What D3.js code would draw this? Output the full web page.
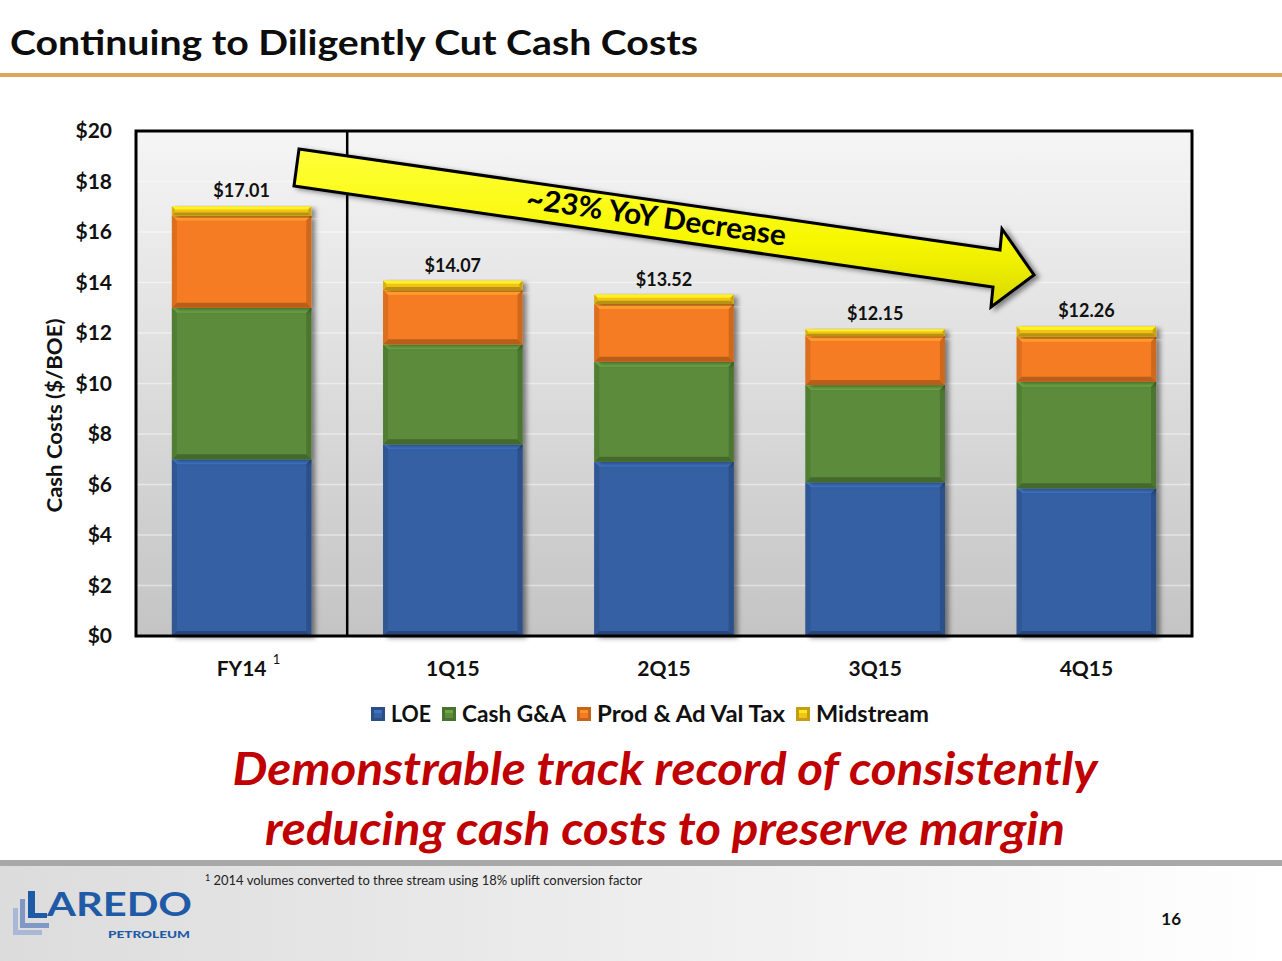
<!DOCTYPE html>
<html>
<head>
<meta charset="utf-8">
<script src="https://cdn.jsdelivr.net/npm/d3@7"></script>
<style>
  html, body { margin: 0; padding: 0; background: #fff; }
  svg { display: block; font-family: Lato, "Open Sans", sans-serif; }
</style>
</head>
<body>
<svg id="chart"></svg>
<script>
// data
const categories = ["FY14", "1Q15", "2Q15", "3Q15", "4Q15"];
const seriesNames = ["LOE", "Cash G&A", "Prod & Ad Val Tax", "Midstream"];
const loe = [7.00, 7.59, 6.90, 6.09, 5.85];
const cashGA = [6.00, 3.96, 3.96, 3.85, 4.22];
const prodTax = [3.65, 2.15, 2.29, 1.94, 1.78];
const midstream = [0.36, 0.37, 0.37, 0.27, 0.41];
const totals = ["$17.01", "$14.07", "$13.52", "$12.15", "$12.26"];
const yTicks = [0, 2, 4, 6, 8, 10, 12, 14, 16, 18, 20];
const seriesColors = ["#3560a4", "#5b8c3a", "#f57c22", "#f2c318"];

const W = 1282, H = 961;
const svg = d3.select("#chart").attr("width", W).attr("height", H);
const defs = svg.append("defs");

// 1. SLIDE FRAME
svg.append("text")
  .attr("x", 10).attr("y", 55)
  .attr("textLength", 688).attr("lengthAdjust", "spacingAndGlyphs")
  .style("font-size", "35px").style("font-weight", "bold").style("fill", "#0d0d0d")
  .text("Continuing to Diligently Cut Cash Costs");

svg.append("rect").attr("x", 0).attr("y", 73).attr("width", W).attr("height", 4).attr("fill", "#dea65d");

// footer band
const footGrad = defs.append("linearGradient").attr("id", "footGrad");
footGrad.append("stop").attr("offset", "0%").attr("stop-color", "#dcdcdc");
footGrad.append("stop").attr("offset", "100%").attr("stop-color", "#ffffff");
svg.append("rect").attr("x", 0).attr("y", 866).attr("width", W).attr("height", H - 866).attr("fill", "url(#footGrad)");
svg.append("rect").attr("x", 0).attr("y", 860).attr("width", W).attr("height", 6).attr("fill", "#a8a8a8");

// 2. CHART AREA
const plotL = 136, plotR = 1192, plotT = 131, plotB = 636;

const x = d3.scaleBand().domain(categories).range([plotL, plotR]).paddingInner(0.34).paddingOuter(0.17);
const y = d3.scaleLinear().domain([0, 20]).range([plotB, plotT]);

const bgGrad = defs.append("linearGradient").attr("id", "bgGrad").attr("x1", 0).attr("y1", 0).attr("x2", 0).attr("y2", 1);
bgGrad.append("stop").attr("offset", "0%").attr("stop-color", "#f5f5f5");
bgGrad.append("stop").attr("offset", "100%").attr("stop-color", "#c4c4c4");
svg.append("rect").attr("x", plotL).attr("y", plotT).attr("width", plotR - plotL).attr("height", plotB - plotT).attr("fill", "url(#bgGrad)");

// gridlines
svg.append("g").selectAll("line")
  .data(yTicks.slice(1, -1))
  .enter().append("line")
  .attr("x1", plotL).attr("x2", plotR)
  .attr("y1", d => y(d)).attr("y2", d => y(d))
  .attr("stroke", "#ffffff").attr("stroke-opacity", 0.45).attr("stroke-width", 1.5);

// y axis labels
const yAxis = d3.axisLeft(y).tickValues(yTicks).tickFormat(d => "$" + d).tickSize(0).tickPadding(24);
const yg = svg.append("g").attr("transform", `translate(${plotL},0)`).call(yAxis);
yg.select(".domain").remove();
yg.selectAll("text").style("font-size", "21px").style("font-weight", "bold").style("fill", "#111").style("font-family", "Lato, sans-serif");

svg.append("text")
  .attr("transform", `translate(62,${(plotT + plotB) / 2 + 32}) rotate(-90)`)
  .attr("text-anchor", "middle")
  .attr("textLength", 194).attr("lengthAdjust", "spacingAndGlyphs")
  .style("font-size", "21px").style("font-weight", "bold").style("fill", "#111")
  .text("Cash Costs ($/BOE)");

// x axis labels
const xAxis = d3.axisBottom(x).tickSize(0).tickPadding(25);
const xg = svg.append("g").attr("transform", `translate(0,${plotB})`).call(xAxis);
xg.select(".domain").remove();
xg.selectAll("text").style("font-size", "21px").style("font-weight", "bold").style("fill", "#111").style("font-family", "Lato, sans-serif");
xg.selectAll(".tick").filter(d => d === "FY14").append("text")
  .attr("x", 35).attr("y", 28)
  .style("font-size", "13px").style("fill", "#111").style("font-family", "Lato, sans-serif")
  .text("1");

// 3. STACKED BARS
const rows = categories.map((c, i) => ({
  cat: c, "LOE": loe[i], "Cash G&A": cashGA[i], "Prod & Ad Val Tax": prodTax[i], "Midstream": midstream[i]
}));
const stacked = d3.stack().keys(seriesNames)(rows);
const color = d3.scaleOrdinal().domain(seriesNames).range(seriesColors);

const shadow = defs.append("filter").attr("id", "shadow").attr("x", "-10%").attr("y", "-10%").attr("width", "130%").attr("height", "130%");
shadow.append("feDropShadow").attr("dx", 4).attr("dy", 2).attr("stdDeviation", 2.5).attr("flood-color", "#000").attr("flood-opacity", 0.45);

const bw = x.bandwidth();
const layers = svg.append("g").selectAll("g")
  .data(stacked)
  .enter().append("g")
  .attr("fill", d => color(d.key));

const segs = layers.selectAll("g")
  .data(d => d.map(p => ({ key: d.key, p })))
  .enter().append("g")
  .attr("transform", d => `translate(${x(d.p.data.cat)},${y(d.p[1])})`);

segs.append("rect")
  .attr("width", bw)
  .attr("height", d => y(d.p[0]) - y(d.p[1]))
  .attr("filter", "url(#shadow)");

// bevel: light top, dark bottom and sides
segs.each(function (d) {
  const h = y(d.p[0]) - y(d.p[1]);
  const b = Math.min(5, h / 3);
  const g = d3.select(this);
  const c = d3.color(color(d.key));
  g.append("path")
    .attr("d", `M0,0 L${bw},0 L${bw - b},${b} L${b},${b} Z`)
    .attr("fill", c.brighter(0.6));
  g.append("path")
    .attr("d", `M0,${h} L${bw},${h} L${bw - b},${h - b} L${b},${h - b} Z`)
    .attr("fill", c.darker(0.8));
  g.append("path")
    .attr("d", `M${bw},0 L${bw},${h} L${bw - b},${h - b} L${bw - b},${b} Z`)
    .attr("fill", c.darker(0.5));
  g.append("path")
    .attr("d", `M0,0 L0,${h} L${b},${h - b} L${b},${b} Z`)
    .attr("fill", c.darker(0.3));
});

// totals
svg.append("g").selectAll("text")
  .data(stacked[stacked.length - 1])
  .enter().append("text")
  .attr("x", d => x(d.data.cat) + bw / 2)
  .attr("y", d => y(d[1]) - 9)
  .attr("text-anchor", "middle")
  .style("font-size", "18px").style("font-weight", "bold").style("fill", "#111")
  .text((d, i) => totals[i]);

// frame + separator
svg.append("rect").attr("x", plotL).attr("y", plotT).attr("width", plotR - plotL).attr("height", plotB - plotT)
  .attr("fill", "none").attr("stroke", "#000").attr("stroke-width", 3);
const sepX = x("1Q15") - x.step() * x.paddingInner() / 2;
svg.append("line").attr("x1", sepX).attr("x2", sepX).attr("y1", plotT).attr("y2", plotB)
  .attr("stroke", "#000").attr("stroke-width", 2.5);

// 4. ARROW ANNOTATION
const arrowGrad = defs.append("linearGradient").attr("id", "arrowGrad").attr("x1", 0).attr("y1", 0).attr("x2", 0).attr("y2", 1);
arrowGrad.append("stop").attr("offset", "0%").attr("stop-color", "#ffff3a");
arrowGrad.append("stop").attr("offset", "60%").attr("stop-color", "#f7f700");
arrowGrad.append("stop").attr("offset", "100%").attr("stop-color", "#d9d900");
const arrowPts = [[299, 149], [1000, 250], [1002, 229], [1034, 275], [991, 307], [993, 287], [294, 186]];
svg.append("polygon")
  .attr("points", arrowPts.map(p => p.join(",")).join(" "))
  .attr("fill", "url(#arrowGrad)")
  .attr("stroke", "#000").attr("stroke-width", 3).attr("stroke-linejoin", "miter")
  .attr("filter", "url(#shadow)");
svg.append("text")
  .attr("transform", "translate(655,227) rotate(8.2)")
  .attr("text-anchor", "middle")
  .attr("textLength", 262).attr("lengthAdjust", "spacingAndGlyphs")
  .style("font-size", "29px").style("font-weight", "bold").style("fill", "#000")
  .text("~23% YoY Decrease");

// 5. LEGEND
const legendWidths = [40, 104, 188, 113];
const legend = svg.append("g").attr("transform", "translate(371,714)");
let lx = 0;
seriesNames.forEach((name, i) => {
  const g = legend.append("g").attr("transform", `translate(${lx},0)`);
  const c = d3.color(seriesColors[i]);
  g.append("rect").attr("x", 0).attr("y", -7).attr("width", 14).attr("height", 14).attr("fill", c.darker(0.6));
  g.append("rect").attr("x", 3).attr("y", -4).attr("width", 8).attr("height", 8).attr("fill", c);
  g.append("rect").attr("x", 3).attr("y", -4).attr("width", 8).attr("height", 3).attr("fill", c.brighter(0.5));
  g.append("text").attr("x", 20).attr("y", 8)
    .attr("textLength", legendWidths[i]).attr("lengthAdjust", "spacingAndGlyphs")
    .style("font-size", "22px").style("font-weight", "bold").style("fill", "#111")
    .text(name);
  lx += 20 + legendWidths[i] + 11;
});

// 6. TAKEAWAY
const takeaway = ["Demonstrable track record of consistently", "reducing cash costs to preserve margin"];
const takeawayWidths = [865, 800];
svg.append("g").selectAll("text")
  .data(takeaway)
  .enter().append("text")
  .attr("x", 665).attr("y", (d, i) => 785 + i * 60)
  .attr("text-anchor", "middle")
  .attr("textLength", (d, i) => takeawayWidths[i]).attr("lengthAdjust", "spacingAndGlyphs")
  .style("font-size", "45px").style("font-weight", "bold").style("font-style", "italic").style("fill", "#c00000")
  .text(d => d);

// 7. FOOTNOTE, PAGE NUMBER, LOGO
const foot = svg.append("text").attr("x", 205).attr("y", 885).style("font-size", "13px").style("fill", "#222");
foot.append("tspan").attr("dy", -4).style("font-size", "9px").text("1");
foot.append("tspan").attr("dy", 4).attr("textLength", 432).attr("lengthAdjust", "spacingAndGlyphs")
  .text(" 2014 volumes converted to three stream using 18% uplift conversion factor");

svg.append("text").attr("x", 1181).attr("y", 925).attr("text-anchor", "end")
  .style("font-size", "17px").style("font-weight", "bold").style("fill", "#111").text("16");

const logo = svg.append("g");
logo.append("path").attr("d", "M13,908 h5 v22 h24 v5 h-29 Z").attr("fill", "#a9b8d4");
logo.append("path").attr("d", "M20,899 h5 v24 h24 v5 h-29 Z").attr("fill", "#7f98c6");
logo.append("path").attr("d", "M28,891 h7 v22 h12 v5 h-19 Z").attr("fill", "#1f5aa6");
logo.append("text").attr("x", 47).attr("y", 916)
  .attr("textLength", 145).attr("lengthAdjust", "spacingAndGlyphs")
  .style("font-size", "32px").style("font-weight", "bold").style("fill", "#1f5aa6")
  .text("AREDO");
logo.append("text").attr("x", 108).attr("y", 938)
  .attr("textLength", 82).attr("lengthAdjust", "spacingAndGlyphs")
  .style("font-size", "9px").style("font-weight", "900").style("fill", "#1f5aa6")
  .text("PETROLEUM");
</script>
</body>
</html>
